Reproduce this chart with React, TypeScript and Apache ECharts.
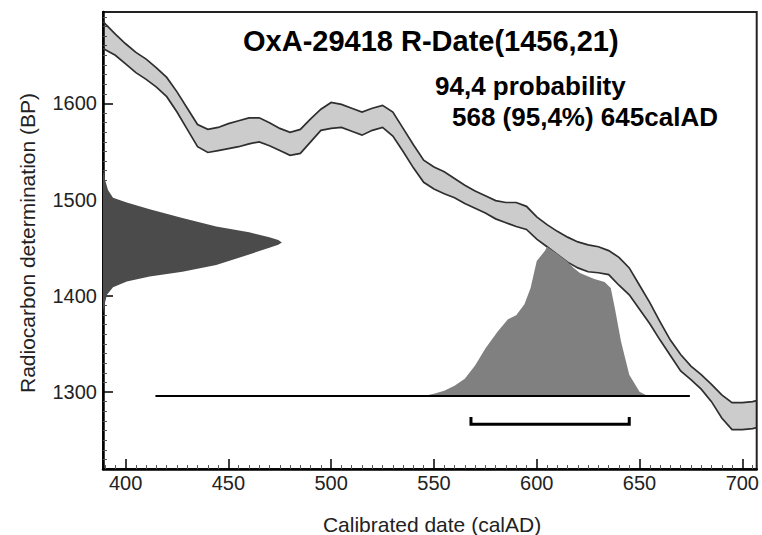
import React, { useEffect, useRef } from "react";
import * as echarts from "echarts";

const FONT = "'Liberation Sans', Arial, Helvetica, sans-serif";

// Axis extents
const X_MIN = 389;
const X_MAX = 707;
const Y_MIN = 1220;
const Y_MAX = 1695;

// Tick labels
const xMajorTicks = [400, 450, 500, 550, 600, 650, 700];
const yMajorTicks = [1300, 1400, 1500, 1600];
const xMinorTicks: number[] = [];
for (let v = 390; v <= 705; v += 5) if (v % 50 !== 0) xMinorTicks.push(v);
const yMinorTicks: number[] = [];
for (let v = 1230; v <= 1690; v += 10) if (v % 100 !== 0) yMinorTicks.push(v);

// Calibration curve band (calAD, BP)
const bandYears = [389, 395, 400, 405, 410, 415, 420, 425, 430, 435, 440, 445, 450, 455, 460, 465, 470, 475, 480, 485, 490, 495, 500, 505, 510, 515, 520, 525, 530, 535, 540, 545, 550, 555, 560, 565, 570, 575, 580, 585, 590, 595, 600, 605, 610, 615, 620, 625, 630, 635, 640, 645, 650, 655, 660, 665, 670, 675, 680, 685, 690, 695, 700, 705, 707];
const bandUpper = [1685, 1672, 1662, 1653, 1646, 1637, 1627, 1612, 1595, 1578, 1573, 1575, 1579, 1582, 1585, 1585, 1580, 1574, 1570, 1573, 1584, 1594, 1601, 1599, 1595, 1591, 1595, 1598, 1591, 1574, 1557, 1541, 1534, 1529, 1522, 1515, 1509, 1504, 1499, 1497, 1497, 1493, 1482, 1474, 1467, 1461, 1456, 1453, 1451, 1447, 1440, 1429, 1411, 1393, 1373, 1354, 1339, 1327, 1318, 1308, 1297, 1289, 1289, 1290, 1291];
const bandLower = [1657, 1650, 1641, 1632, 1625, 1617, 1607, 1591, 1573, 1555, 1549, 1551, 1553, 1555, 1558, 1560, 1556, 1551, 1546, 1548, 1560, 1572, 1574, 1575, 1571, 1567, 1572, 1575, 1566, 1550, 1533, 1518, 1511, 1506, 1502, 1496, 1491, 1486, 1480, 1476, 1472, 1469, 1459, 1451, 1443, 1435, 1429, 1425, 1424, 1422, 1411, 1401, 1386, 1371, 1354, 1338, 1322, 1313, 1303, 1290, 1273, 1261, 1261, 1262, 1263];

// Radiocarbon determination (BP, relative probability)
const rdateBP = [1531, 1521, 1510, 1502, 1497, 1490, 1481, 1472, 1466, 1461, 1458, 1455.5, 1453, 1450, 1443, 1432, 1425, 1420, 1415, 1409, 1401, 1389, 1381];
const rdateProb = [0, 0.011, 0.028, 0.056, 0.133, 0.261, 0.444, 0.633, 0.817, 0.93, 0.98, 1.0, 0.98, 0.93, 0.817, 0.633, 0.444, 0.261, 0.133, 0.056, 0.022, 0.006, 0];

// Calibrated date distribution (calAD, relative probability)
const calYears = [545, 550, 555, 560, 565, 570, 575, 581, 586, 590, 594, 597, 600, 604, 605, 610, 615, 618, 621, 628, 633, 636, 638, 641, 645, 650, 654];
const calProb = [0, 0.014, 0.034, 0.068, 0.115, 0.203, 0.318, 0.432, 0.514, 0.541, 0.615, 0.723, 0.905, 0.973, 1, 0.953, 0.899, 0.858, 0.824, 0.784, 0.764, 0.723, 0.588, 0.365, 0.142, 0.027, 0];

// Range lines
const baselineYears = [414.5, 674.5];
const baselineBP = 1296;
const rangeYears = [568, 645];
const rangeBP = 1266.5;
const rangeTickBP = 1274;

// Scale of the probability plots
const CAL_BASE_BP = 1296;
const CAL_PEAK_BP = 1451;
const RDATE_PEAK_YEAR = 476;

const plain = (v: number) => String(v);

export default function App() {
  const ref = useRef<HTMLDivElement>(null);

  useEffect(() => {
    if (!ref.current) return;
    const chart = echarts.init(ref.current, undefined, { renderer: "svg" });

    const calSpan = CAL_PEAK_BP - CAL_BASE_BP;
    const rSpan = RDATE_PEAK_YEAR - X_MIN;

    const option: any = {
      animation: false,
      grid: {
        left: 103,
        right: 3,
        top: 12,
        bottom: 66,
        show: true,
        borderColor: "#222",
        borderWidth: 2,
        backgroundColor: "transparent",
      },
      xAxis: [
        {
          type: "value",
          position: "bottom",
          min: X_MIN,
          max: X_MAX,
          axisLine: { show: true, onZero: false, lineStyle: { color: "#000", width: 2.5 } },
          axisTick: {
            show: true,
            inside: true,
            length: 10,
            customValues: xMajorTicks,
            lineStyle: { color: "#000", width: 1.5 },
          },
          axisLabel: {
            customValues: xMajorTicks,
            formatter: plain,
            fontSize: 20,
            color: "#222",
            fontFamily: FONT,
            margin: 4,
          },
          splitLine: { show: false },
        },
        {
          type: "value",
          position: "bottom",
          min: X_MIN,
          max: X_MAX,
          axisLine: { show: false, onZero: false },
          axisTick: {
            show: true,
            inside: true,
            length: 4,
            customValues: xMinorTicks,
            lineStyle: { color: "#555", width: 1 },
          },
          axisLabel: { show: false },
          splitLine: { show: false },
        },
        {
          type: "value",
          position: "bottom",
          show: false,
          axisLine: { onZero: false },
          min: 0,
          max: (X_MAX - X_MIN) / rSpan,
        },
      ],
      yAxis: [
        {
          type: "value",
          position: "left",
          min: Y_MIN,
          max: Y_MAX,
          axisLine: { show: true, onZero: false, lineStyle: { color: "#000", width: 2.5 } },
          axisTick: {
            show: true,
            inside: true,
            length: 10,
            customValues: yMajorTicks,
            lineStyle: { color: "#000", width: 1.5 },
          },
          axisLabel: {
            customValues: yMajorTicks,
            formatter: plain,
            fontSize: 20,
            color: "#222",
            fontFamily: FONT,
            margin: 6,
          },
          splitLine: { show: false },
        },
        {
          type: "value",
          position: "left",
          min: Y_MIN,
          max: Y_MAX,
          axisLine: { show: false, onZero: false },
          axisTick: {
            show: true,
            inside: true,
            length: 4,
            customValues: yMinorTicks,
            lineStyle: { color: "#555", width: 1 },
          },
          axisLabel: { show: false },
          splitLine: { show: false },
        },
        {
          type: "value",
          position: "left",
          show: false,
          axisLine: { onZero: false },
          min: (Y_MIN - CAL_BASE_BP) / calSpan,
          max: (Y_MAX - CAL_BASE_BP) / calSpan,
        },
      ],
      series: [
        {
          name: "calibrated",
          type: "line",
          xAxisIndex: 0,
          yAxisIndex: 2,
          data: calYears.map((y, i) => [y, calProb[i]]),
          symbol: "none",
          silent: true,
          lineStyle: { width: 0, color: "#808080" },
          areaStyle: { color: "#808080", opacity: 1, origin: 0 },
        },
        {
          name: "rdate",
          type: "custom",
          xAxisIndex: 2,
          yAxisIndex: 0,
          silent: true,
          data: rdateBP.map((bp, i) => [rdateProb[i], bp]),
          renderItem: (params: any, api: any) => {
            if (params.dataIndex !== 0) return null;
            const pts = rdateBP.map((bp, i) => api.coord([rdateProb[i], bp]));
            return {
              type: "polygon",
              shape: { points: pts },
              style: { fill: "#4b4b4b", stroke: "none" },
            };
          },
        },
        {
          name: "curve",
          type: "custom",
          xAxisIndex: 0,
          yAxisIndex: 0,
          silent: true,
          data: bandYears.map((y, i) => [y, bandUpper[i], bandLower[i]]),
          renderItem: (params: any, api: any) => {
            if (params.dataIndex !== 0) return null;
            const up = bandYears.map((y, i) => api.coord([y, bandUpper[i]]));
            const lo = bandYears.map((y, i) => api.coord([y, bandLower[i]]));
            return {
              type: "group",
              children: [
                {
                  type: "polygon",
                  shape: { points: up.concat(lo.slice().reverse()) },
                  style: { fill: "rgba(0,0,0,0.2)", stroke: "none" },
                },
                {
                  type: "polyline",
                  shape: { points: up },
                  style: { fill: "none", stroke: "#2e2e2e", lineWidth: 1.7 },
                },
                {
                  type: "polyline",
                  shape: { points: lo },
                  style: { fill: "none", stroke: "#2e2e2e", lineWidth: 1.7 },
                },
              ],
            };
          },
        },
        {
          name: "baseline",
          type: "line",
          xAxisIndex: 0,
          yAxisIndex: 0,
          data: baselineYears.map((y) => [y, baselineBP]),
          symbol: "none",
          silent: true,
          lineStyle: { color: "#000", width: 2 },
        },
        {
          name: "range",
          type: "line",
          xAxisIndex: 0,
          yAxisIndex: 0,
          data: [
            [rangeYears[0], rangeTickBP],
            [rangeYears[0], rangeBP],
            [rangeYears[1], rangeBP],
            [rangeYears[1], rangeTickBP],
          ],
          symbol: "none",
          silent: true,
          lineStyle: { color: "#000", width: 3, join: "miter" },
        },
      ],
      graphic: [
        {
          type: "text",
          x: 243,
          y: 41,
          style: {
            text: "OxA-29418 R-Date(1456,21)",
            font: `bold 29px ${FONT}`,
            fill: "#000",
            textAlign: "left",
            textVerticalAlign: "middle",
          },
        },
        {
          type: "text",
          x: 435,
          y: 86,
          style: {
            text: "94,4 probability",
            font: `bold 26px ${FONT}`,
            fill: "#000",
            textAlign: "left",
            textVerticalAlign: "middle",
          },
        },
        {
          type: "text",
          x: 452,
          y: 117,
          style: {
            text: "568 (95,4%) 645calAD",
            font: `bold 26px ${FONT}`,
            fill: "#000",
            textAlign: "left",
            textVerticalAlign: "middle",
          },
        },
        {
          type: "text",
          x: 432,
          y: 524,
          style: {
            text: "Calibrated date (calAD)",
            font: `21px ${FONT}`,
            fill: "#222",
            textAlign: "center",
            textVerticalAlign: "middle",
          },
        },
        {
          type: "text",
          x: 27,
          y: 243,
          rotation: Math.PI / 2,
          style: {
            text: "Radiocarbon determination (BP)",
            font: `21px ${FONT}`,
            fill: "#222",
            textAlign: "center",
            textVerticalAlign: "middle",
          },
        },
      ],
    };

    chart.setOption(option);
    return () => chart.dispose();
  }, []);

  return (
    <div
      ref={ref}
      style={{ position: "absolute", left: 0, top: 0, width: 762, height: 535, background: "#fff" }}
    />
  );
}
